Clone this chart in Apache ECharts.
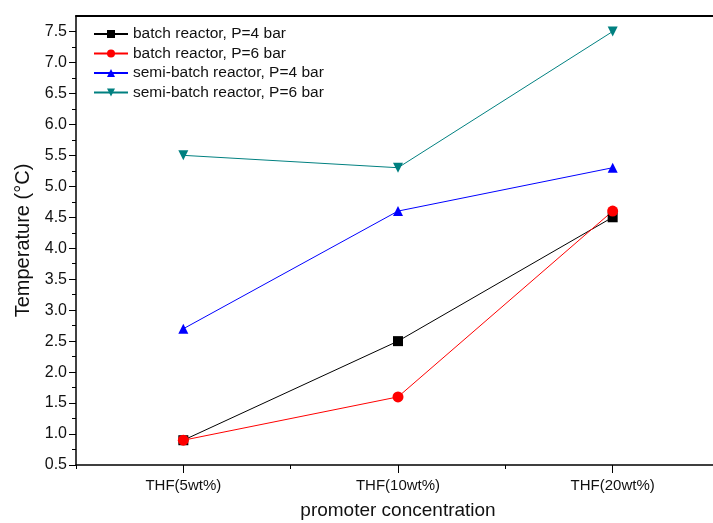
<!DOCTYPE html>
<html>
<head>
<meta charset="utf-8">
<script src="https://cdn.jsdelivr.net/npm/echarts@6/dist/echarts.min.js"></script>
<style>
  html, body { margin: 0; padding: 0; background: #fff; overflow: hidden; }
  /* chart is a bit wider than the window: the plot is cut at the right edge like the source */
  #chart { width: 730px; height: 523px; }
</style>
</head>
<body>
<div id="chart"></div>
<script>
// categories on the x axis
const categories = ['THF(5wt%)', 'THF(10wt%)', 'THF(20wt%)'];
const yTicks = [0.5, 1.0, 1.5, 2.0, 2.5, 3.0, 3.5, 4.0, 4.5, 5.0, 5.5, 6.0, 6.5, 7.0, 7.5];
const yMinorTicks = yTicks.slice(0, -1).map(v => v + 0.25);

// temperatures (°C)
const batch4 = [0.9, 2.5, 4.5];
const batch6 = [0.9, 1.6, 4.6];
const semi4 = [2.7, 4.6, 5.3];
const semi6 = [5.5, 5.3, 7.5];

const font = 'Liberation Sans, Arial, sans-serif';

// category i sits at x = i + 1 on a value axis
function pairs(vals) {
  return vals.map((v, i) => [i + 1, v]);
}

function makeSeries(name, vals, color, symbol, rotate) {
  return {
    name: name,
    type: 'line',
    data: pairs(vals),
    symbol: symbol,
    symbolSize: symbol === 'circle' ? 11 : 10,
    symbolRotate: rotate || 0,
    itemStyle: { color: color },
    lineStyle: { color: color, width: 1 }
  };
}

const chart = echarts.init(document.getElementById('chart'));

const gridBox = {
  left: 76,
  right: 10,
  top: 16,
  bottom: 58,
  outerBoundsMode: 'none',
  containLabel: false
};

const option = {
  animation: false,
  // second grid only carries the minor y ticks
  grid: [Object.assign({}, gridBox), Object.assign({}, gridBox)],
  legend: {
    orient: 'vertical',
    left: 88,
    top: 21,
    itemWidth: 34,
    itemHeight: 10,
    itemGap: 3.5,
    textStyle: { fontFamily: font, fontSize: 15.5, color: '#111' },
    data: ['batch reactor, P=4 bar', 'batch reactor, P=6 bar',
           'semi-batch reactor, P=4 bar', 'semi-batch reactor, P=6 bar']
  },
  xAxis: [{
    type: 'value',
    gridIndex: 0,
    position: 'bottom',
    min: 0.5,
    max: 3.5,
    interval: 1,
    name: 'promoter concentration',
    nameLocation: 'middle',
    nameGap: 36,
    nameTextStyle: { fontFamily: font, fontSize: 19, color: '#111' },
    axisLine: { lineStyle: { color: '#000', width: 1.5 } },
    axisTick: { show: true, length: 4, lineStyle: { color: '#000' } },
    minorTick: { show: true, splitNumber: 2, length: 8, lineStyle: { color: '#000' } },
    splitLine: { show: false },
    axisLabel: {
      customValues: [1, 2, 3],
      margin: 13,
      fontFamily: font,
      fontSize: 15,
      color: '#111',
      formatter: v => categories[Math.round(v) - 1] || ''
    }
  }, {
    // top frame line
    type: 'value',
    gridIndex: 0,
    position: 'top',
    min: 0.5,
    max: 3.5,
    axisLine: { show: true, lineStyle: { color: '#000', width: 2 } },
    axisTick: { show: false },
    axisLabel: { show: false },
    splitLine: { show: false }
  }, {
    type: 'value',
    gridIndex: 1,
    min: 0.5,
    max: 3.5,
    show: false
  }],
  yAxis: [{
    type: 'value',
    gridIndex: 0,
    min: 0.5,
    max: 7.75,
    interval: 0.5,
    name: 'Temperature (°C)',
    nameLocation: 'middle',
    nameGap: 42,
    nameTextStyle: { fontFamily: font, fontSize: 20, color: '#111' },
    axisLine: { show: true, lineStyle: { color: '#000', width: 1.5 } },
    axisTick: { show: true, length: 7, customValues: yTicks, lineStyle: { color: '#000' } },
    splitLine: { show: false },
    axisLabel: {
      customValues: yTicks,
      margin: 9,
      fontFamily: font,
      fontSize: 16,
      color: '#111',
      formatter: v => v.toFixed(1)
    }
  }, {
    type: 'value',
    gridIndex: 1,
    position: 'left',
    min: 0.5,
    max: 7.75,
    axisLine: { show: false },
    axisTick: { show: true, length: 4, customValues: yMinorTicks, lineStyle: { color: '#000' } },
    axisLabel: { show: false },
    splitLine: { show: false }
  }],
  series: [
    makeSeries('batch reactor, P=4 bar', batch4, '#000000', 'rect'),
    makeSeries('batch reactor, P=6 bar', batch6, '#ff0000', 'circle'),
    makeSeries('semi-batch reactor, P=4 bar', semi4, '#0000ff', 'triangle'),
    makeSeries('semi-batch reactor, P=6 bar', semi6, '#008080', 'triangle', 180)
  ]
};

chart.setOption(option);
</script>
</body>
</html>
